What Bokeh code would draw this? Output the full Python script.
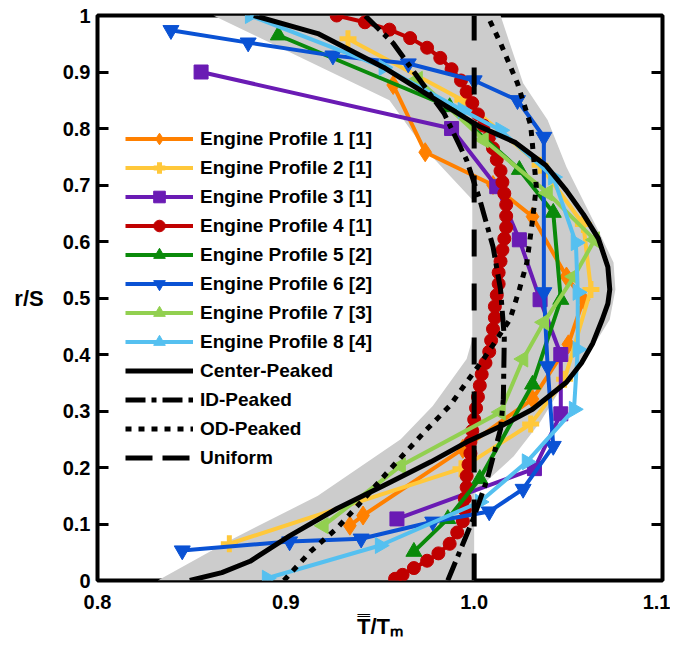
import math
from bokeh.plotting import figure
from bokeh.models import Legend, LegendItem, FixedTicker, LinearAxis
from bokeh.embed import file_html
from bokeh.resources import INLINE

# ---------------- data (T/Tm , r/S) ----------------
x_ticks = [0.8, 0.9, 1.0, 1.1]
x_tick_labels = ["0.8", "0.9", "1.0", "1.1"]
y_ticks = [0, 0.1, 0.2, 0.3, 0.4, 0.5, 0.6, 0.7, 0.8, 0.9, 1]
y_tick_labels = ["0", "0.1", "0.2", "0.3", "0.4", "0.5", "0.6", "0.7", "0.8", "0.9", "1"]

band_T = [1.014, 1.026, 1.039, 1.049, 1.059, 1.067, 1.074, 1.075, 1.072, 1.059, 1.049,
          1.035, 1.021, 1.008, 1.000, 1.000, 0.832, 0.872, 0.917, 0.961, 0.978, 0.996,
          0.999, 0.999, 0.973, 0.955, 0.8615]
band_r = [1.000, 0.880, 0.815, 0.732, 0.665, 0.612, 0.563, 0.515, 0.462, 0.392, 0.356,
          0.280, 0.220, 0.180, 0.153, 0.000, 0.000, 0.074, 0.150, 0.250, 0.309, 0.392,
          0.427, 0.674, 0.767, 0.850, 1.000]

p1_T = [0.957, 0.974, 1.010, 1.031, 1.049, 1.058, 1.050, 1.031, 0.994, 0.941, 0.934]
p1_r = [0.877, 0.758, 0.700, 0.644, 0.538, 0.497, 0.418, 0.321, 0.233, 0.115, 0.097]

p2_T = [0.933, 0.994, 1.035, 1.058, 1.062, 1.048, 1.030, 0.993, 0.870]
p2_r = [0.959, 0.850, 0.735, 0.630, 0.515, 0.356, 0.277, 0.198, 0.065]

p3_T = [0.855, 0.988, 1.012, 1.024, 1.035, 1.046, 1.046, 1.032, 0.959]
p3_r = [0.900, 0.800, 0.697, 0.603, 0.497, 0.400, 0.295, 0.198, 0.109]

p4_T = [0.927, 0.942, 0.955, 0.966, 0.975, 0.982, 0.988, 0.993, 0.996, 0.999,
        1.002, 1.005, 1.008, 1.010, 1.012, 1.014, 1.015, 1.016, 1.017, 1.017,
        1.017, 1.016, 1.015, 1.014, 1.013, 1.013, 1.012, 1.011, 1.011, 1.010,
        1.009, 1.008, 1.006, 1.004, 1.003, 1.002, 1.001, 1.000, 0.999, 0.998,
        0.998, 0.997, 0.996, 0.996, 0.995, 0.995, 0.994, 0.991, 0.987, 0.981,
        0.975, 0.968, 0.962, 0.958]
p4_r = [1.000, 0.988, 0.975, 0.960, 0.943, 0.925, 0.905, 0.885, 0.865, 0.845,
        0.825, 0.805, 0.785, 0.765, 0.745, 0.725, 0.705, 0.685, 0.665, 0.645,
        0.625, 0.605, 0.585, 0.565, 0.545, 0.525, 0.505, 0.485, 0.465, 0.445,
        0.425, 0.405, 0.385, 0.365, 0.345, 0.325, 0.305, 0.285, 0.265, 0.245,
        0.225, 0.205, 0.185, 0.165, 0.145, 0.125, 0.105, 0.085, 0.065, 0.048,
        0.035, 0.022, 0.010, 0.003]

p5_T = [0.896, 0.987, 1.024, 1.042, 1.046, 1.031, 1.003, 0.986, 0.968]
p5_r = [0.965, 0.838, 0.727, 0.651, 0.497, 0.347, 0.180, 0.109, 0.051]

p6_T = [0.839, 0.880, 0.925, 0.965, 1.000, 1.023, 1.037, 1.037, 1.039, 1.042,
        1.026, 1.008, 0.978, 0.940, 0.902, 0.845]
p6_r = [0.974, 0.952, 0.929, 0.915, 0.885, 0.850, 0.785, 0.510, 0.379, 0.238,
        0.162, 0.122, 0.104, 0.074, 0.069, 0.053]

p7_T = [0.970, 1.005, 1.039, 1.064, 1.053, 1.037, 1.026, 1.014, 0.961, 0.920]
p7_r = [0.887, 0.780, 0.686, 0.603, 0.538, 0.457, 0.392, 0.298, 0.203, 0.097]

p8_T = [0.881, 0.952, 0.994, 1.014, 1.042, 1.054, 1.055, 1.055, 1.053, 1.028, 1.003, 0.950, 0.890]
p8_r = [1.000, 0.908, 0.832, 0.797, 0.714, 0.598, 0.510, 0.409, 0.303, 0.210, 0.139, 0.062, 0.004]

cp_T = [0.849, 0.866, 0.881, 0.902, 0.927, 0.952, 0.977, 0.996, 1.014, 1.031, 1.049,
        1.057, 1.063, 1.068, 1.071, 1.072, 1.071, 1.066, 1.058, 1.049, 1.038, 1.022,
        1.002, 0.980, 0.952, 0.917, 0.883]
cp_r = [0.000, 0.014, 0.034, 0.079, 0.127, 0.168, 0.210, 0.245, 0.273, 0.303, 0.351,
        0.385, 0.420, 0.462, 0.490, 0.515, 0.555, 0.605, 0.648, 0.690, 0.735, 0.775,
        0.805, 0.850, 0.908, 0.968, 1.000]

id_T = [0.986, 0.9995, 1.007, 1.014, 1.0155, 1.016, 1.014, 1.010, 1.003, 0.996, 0.984, 0.970, 0.957, 0.942]
id_r = [0.000, 0.109, 0.180, 0.268, 0.321, 0.430, 0.515, 0.591, 0.674, 0.744, 0.827, 0.891, 0.951, 1.000]

od_T = [0.899, 0.913, 0.927, 0.943, 0.957, 0.975, 0.987, 0.996, 1.005, 1.012, 1.019,
        1.024, 1.028, 1.031, 1.033, 1.030, 1.023, 1.014, 1.007]
od_r = [0.000, 0.051, 0.092, 0.150, 0.203, 0.268, 0.309, 0.351, 0.392, 0.427, 0.462,
        0.515, 0.563, 0.638, 0.697, 0.806, 0.880, 0.951, 1.000]

un_T = [1.0, 1.0]
un_r = [0.0, 1.0]

profiles = [
    ("Engine Profile 1 [1]", p1_T, p1_r, "#ff8000", "diamond", 0.0, 19),
    ("Engine Profile 2 [1]", p2_T, p2_r, "#ffc83a", "cross", 0.0, 17),
    ("Engine Profile 3 [1]", p3_T, p3_r, "#6a1bb4", "square", 0.0, 14),
    ("Engine Profile 4 [1]", p4_T, p4_r, "#c00000", "circle", 0.0, 13),
    ("Engine Profile 5 [2]", p5_T, p5_r, "#0a8a0a", "triangle", 0.0, 16),
    ("Engine Profile 6 [2]", p6_T, p6_r, "#0a52d4", "inverted_triangle", 0.0, 16),
    ("Engine Profile 7 [3]", p7_T, p7_r, "#92d050", "triangle", math.pi / 2, 16),
    ("Engine Profile 8 [4]", p8_T, p8_r, "#55c0f0", "triangle", -math.pi / 2, 16),
]

FONT = "Liberation Sans"

p = figure(width=670, height=641, x_range=(0.8, 1.1), y_range=(0, 1),
           output_backend="svg", toolbar_location=None,
           min_border_left=97, min_border_right=8, min_border_top=15, min_border_bottom=59)
p.grid.visible = False
p.outline_line_color = "black"
p.outline_line_width = 4
p.background_fill_color = "white"
p.border_fill_color = "white"

# gray envelope
p.patch(band_T, band_r, fill_color="#cccccc", line_color=None)

items = []
for label, T, r, color, marker, ang, size in profiles:
    lr = p.line(T, r, line_color=color, line_width=4)
    if marker == "cross":
        sr = p.scatter(T, r, marker=marker, size=size, line_color=color, line_width=5)
    else:
        sr = p.scatter(T, r, marker=marker, angle=ang, size=size,
                       fill_color=color, line_color=color, line_width=1)
    items.append(LegendItem(label=label, renderers=[lr, sr]))

cp = p.line(cp_T, cp_r, line_color="black", line_width=5, line_join="round")
idl = p.line(id_T, id_r, line_color="black", line_width=5, line_dash="20 6 5 6")
od = p.line(od_T, od_r, line_color="black", line_width=5, line_dash="6 7")
un = p.line(un_T, un_r, line_color="black", line_width=5, line_dash="27 27")
un_leg = p.line([math.nan, math.nan], [math.nan, math.nan],
                line_color="black", line_width=5, line_dash="27 10")

items.append(LegendItem(label="Center-Peaked", renderers=[cp]))
items.append(LegendItem(label="ID-Peaked", renderers=[idl]))
items.append(LegendItem(label="OD-Peaked", renderers=[od]))
items.append(LegendItem(label="Uniform", renderers=[un_leg]))

legend = Legend(items=items, location=(28, 108), padding=0, margin=0, spacing=0,
                glyph_width=68, glyph_height=29, label_height=20, label_standoff=7,
                label_text_font=FONT, label_text_font_style="bold",
                label_text_font_size="19px", label_text_color="black",
                background_fill_alpha=0, border_line_color=None)
p.add_layout(legend)

# axes
xa = p.xaxis[0]
xa.ticker = FixedTicker(ticks=x_ticks)
xa.major_label_overrides = dict(zip(x_ticks, x_tick_labels))
xa.major_tick_in = 0
xa.major_tick_out = 0
xa.minor_tick_line_color = None
xa.axis_line_color = None
xa.major_label_text_font = FONT
xa.major_label_text_font_style = "bold"
xa.major_label_text_font_size = "20px"
xa.major_label_text_color = "black"
xa.major_label_standoff = 14
xa.axis_label = "T\u033F/T\u2098"
xa.axis_label_text_font = FONT
xa.axis_label_text_font_style = "bold"
xa.axis_label_text_font_size = "22px"
xa.axis_label_text_color = "black"
xa.axis_label_standoff = 2

ya = p.yaxis[0]
ya.ticker = FixedTicker(ticks=y_ticks)
ya.major_label_overrides = dict(zip(y_ticks, y_tick_labels))
ya.major_tick_in = 11
ya.major_tick_out = 0
ya.major_tick_line_width = 3
ya.major_tick_line_color = "black"
ya.minor_tick_line_color = None
ya.axis_line_color = None
ya.major_label_text_font = FONT
ya.major_label_text_font_style = "bold"
ya.major_label_text_font_size = "20px"
ya.major_label_text_color = "black"
ya.major_label_standoff = 7
ya.axis_label = "r/S"
ya.axis_label_text_font = FONT
ya.axis_label_text_font_style = "bold"
ya.axis_label_text_font_size = "22px"
ya.axis_label_text_color = "black"
ya.axis_label_standoff = 16
try:
    ya.axis_label_orientation = "horizontal"
except Exception:
    pass

ra = LinearAxis(ticker=FixedTicker(ticks=y_ticks), major_tick_in=11, major_tick_out=0,
                major_tick_line_width=3, minor_tick_line_color=None, axis_line_color=None,
                major_label_overrides={t: "" for t in y_ticks}, major_label_standoff=0)
p.add_layout(ra, "right")

open("out.html", "w").write(file_html(p, INLINE))
